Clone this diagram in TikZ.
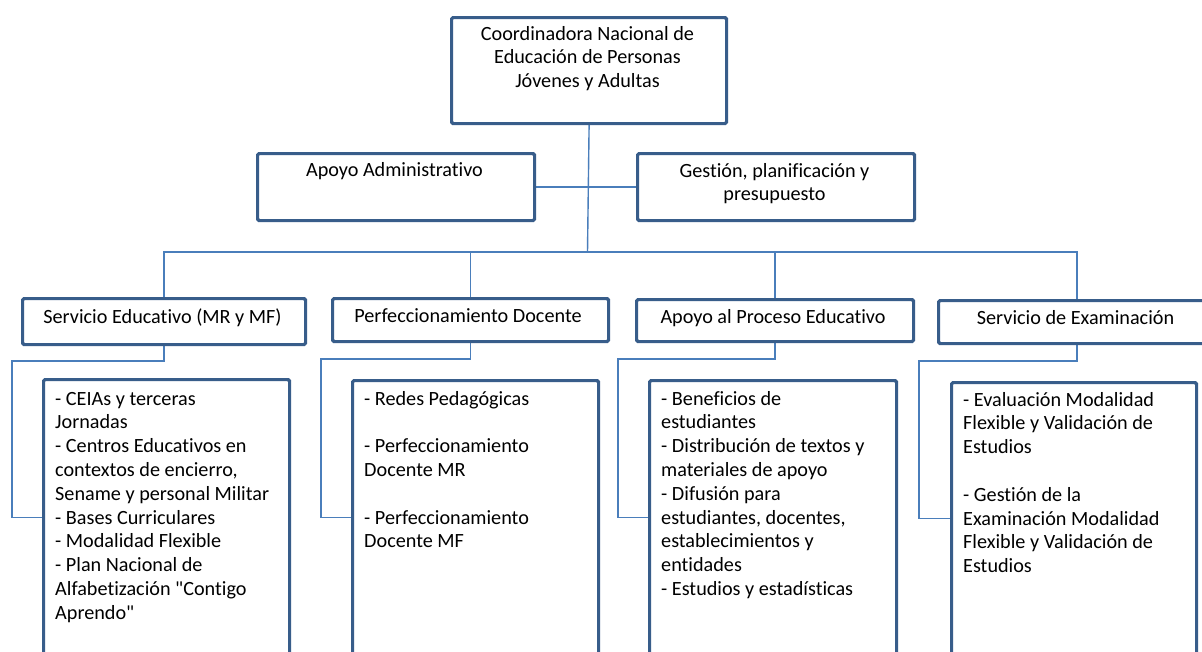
\documentclass[tikz,border=0pt]{standalone}
\usepackage{fontspec}
\setmainfont{Carlito}[Ligatures={TeXOff,CommonOff}]
\usetikzlibrary{backgrounds}
\definecolor{boxblue}{HTML}{385D8A}
\definecolor{linkblue}{HTML}{4A7EBB}
\tikzset{
  box/.style={draw=boxblue, line width=3.2pt, fill=white, inner sep=0pt, rounded corners=1.5pt, anchor=north west},
  conn/.style={draw=linkblue, line width=1.4pt},
  txt/.style={inner sep=0pt, font=\fontsize{20.2}{23.8}\selectfont, text=black},
}
\newcommand\ctext[2]{\begin{minipage}[t]{#1}\centering #2\end{minipage}}
\newcommand\ltext[1]{\begin{minipage}[t]{300pt}\raggedright #1\end{minipage}}
\begin{document}
\begin{tikzpicture}[x=1pt,y=-1pt]
\useasboundingbox (0,0) rectangle (1202,651);
\clip (0,0) rectangle (1202,651);
% boxes
\node[box, minimum width=275pt, minimum height=106pt] (top) at (450,16) {};
\node[box, minimum width=277pt, minimum height=67pt] (aa) at (256,152) {};
\node[box, minimum width=277pt, minimum height=67pt] (gp) at (636,152) {};
\node[box, minimum width=283pt, minimum height=46pt] (s1) at (21,297) {};
\node[box, minimum width=276pt, minimum height=43pt] (s2) at (331,297) {};
\node[box, minimum width=277pt, minimum height=42pt] (s3) at (635,298) {};
\node[box, minimum width=277pt, minimum height=43pt] (s4) at (937,299) {};
\node[box, minimum width=246pt, minimum height=276pt] (d1) at (42,378) {};
\node[box, minimum width=246pt, minimum height=274pt] (d2) at (351,379) {};
\node[box, minimum width=247pt, minimum height=274pt] (d3) at (648,379) {};
\node[box, minimum width=245pt, minimum height=272pt] (d4) at (950,381) {};
% texts
\node[txt, anchor=base] (ttop) at (587.5,40) {\ctext{270pt}{Coordinadora Nacional de\\Educación de Personas\\Jóvenes y Adultas}};
\node[txt, anchor=base] (taa) at (394.5,176) {Apoyo Administrativo};
\node[txt, anchor=base] (tgp) at (774.5,177) {\ctext{270pt}{Gestión, planificación y\\presupuesto}};
\node[txt, anchor=base] (ts1) at (162.5,323) {Servicio Educativo (MR y MF)};
\node[txt, anchor=base] (ts2) at (468,322) {Perfeccionamiento Docente};
\node[txt, anchor=base] (ts3) at (773,323) {Apoyo al Proceso Educativo};
\node[txt, anchor=base] (ts4) at (1075.5,324) {Servicio de Examinación};
\node[txt, anchor=base west] (td1) at (55,405) {\ltext{- CEIAs y terceras\\Jornadas\\- Centros Educativos en\\contextos de encierro,\\Sename y personal Militar\\- Bases Curriculares\\- Modalidad Flexible\\- Plan Nacional de\\Alfabetización "Contigo\\Aprendo"}};
\node[txt, anchor=base west] (td2) at (364,405) {\ltext{- Redes Pedagógicas\\[23.8pt]- Perfeccionamiento\\Docente MR\\[23.8pt]- Perfeccionamiento\\Docente MF}};
\node[txt, anchor=base west] (td3) at (661,405) {\ltext{- Beneficios de\\estudiantes\\- Distribución de textos y\\materiales de apoyo\\- Difusión para\\estudiantes, docentes,\\establecimientos y\\entidades\\- Estudios y estadísticas}};
\node[txt, anchor=base west] (td4) at (963,406) {\ltext{- Evaluación Modalidad\\Flexible y Validación de\\Estudios\\[23.8pt]- Gestión de la\\Examinación Modalidad\\Flexible y Validación de\\Estudios}};
% connectors
\begin{scope}[on background layer]
\fill[white] (0,0) rectangle (1202,651);
\coordinate (bus) at (587.5,252);
\coordinate (k1) at (12,361);
\coordinate (k2) at (321,359);
\coordinate (k3) at (618,359);
\coordinate (k4) at (919,361);
\draw[conn] (top.south) -- (bus);
\draw[conn] (aa.east) -- (gp.west);
\draw[conn] (s1.north) |- (bus) -| (s4.north);
\draw[conn] (s2.north) -- (s2.north |- bus);
\draw[conn] (s3.north) -- (s3.north |- bus);
\draw[conn] (s1.south) |- (k1) |- (d1.west);
\draw[conn] (s2.south) |- (k2) |- (d2.west);
\draw[conn] (s3.south) |- (k3) |- (d3.west);
\draw[conn] (s4.south) |- (k4) |- (d4.west);
\end{scope}
\end{tikzpicture}
\end{document}
